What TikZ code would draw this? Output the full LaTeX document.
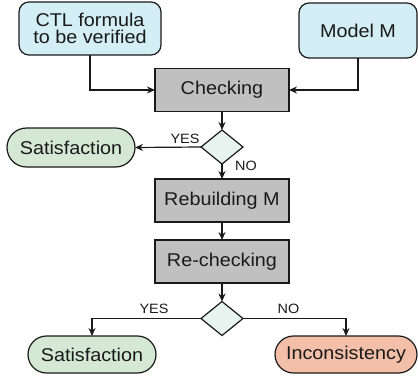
\documentclass[tikz,border=0pt]{standalone}
\usepackage{fontspec}
\setmainfont{Liberation Sans}[FakeStretch=1.07]
\usetikzlibrary{shapes.geometric,shapes.misc,arrows.meta}

\definecolor{inputfill}{HTML}{D4EEF6}
\definecolor{stepfill}{HTML}{C0C0C0}
\definecolor{testfill}{HTML}{E6F3EE}
\definecolor{okfill}{HTML}{D5E8D4}
\definecolor{badfill}{HTML}{F4BFA8}
\definecolor{ink}{HTML}{1A1A1A}

\tikzset{
  base/.style={draw=ink, line width=1.2pt, text=ink, inner sep=0pt, outer sep=0pt,
    font=\fontsize{18.5}{17.5}\selectfont, align=center},
  inputbox/.style={base, fill=inputfill, rounded corners=10pt},
  stepbox/.style={base, fill=stepfill, minimum width=134pt, minimum height=43pt},
  testbox/.style={base, diamond, fill=testfill, minimum width=42pt, minimum height=34pt},
  endbox/.style={base, rounded rectangle, fill=okfill},
  flow/.style={draw=ink, line width=1.2pt, -{Stealth[length=8pt,width=7pt]}},
  lbl/.style={text=ink, inner sep=0pt, font=\fontsize{13.5}{14}\selectfont}
}

\begin{document}
\begin{tikzpicture}[x=1pt,y=-1pt]
  \useasboundingbox (0,0) rectangle (418,378);

  % inputs
  \node[inputbox, minimum width=142pt, minimum height=53pt] (ctl) at (90,28.5) {CTL formula\\to be verified};
  \node[inputbox, minimum width=118pt, minimum height=55pt] (model) at (358,30.5) {Model M};

  % first check
  \node[stepbox] (check) at (222,90) {Checking};
  \node[testbox] (t1) at (222,147) {};
  \node[endbox, minimum width=128pt, minimum height=39pt] (sat1) at (71,147.5) {Satisfaction};

  % rebuild and check again
  \node[stepbox] (rebuild) at (222,200.5) {Rebuilding M};
  \node[stepbox] (recheck) at (222,261.5) {Re-checking};
  \node[testbox] (t2) at (222,318.5) {};

  % outcomes
  \node[endbox, minimum width=128pt, minimum height=37pt] (sat2) at (92,354.5) {Satisfaction};
  \node[endbox, minimum width=142pt, minimum height=37pt, fill=badfill] (inc) at (346,354.5) {Inconsistency};

  \draw[flow] (ctl.south) |- (check.west);
  \draw[flow] (model.south) |- (check.east);
  \draw[flow] (check.south) -- (t1.north);
  \draw[flow] (t1.west) -- (sat1.east);
  \draw[flow] (t1.south) -- (rebuild.north);
  \draw[flow] (rebuild.south) -- (recheck.north);
  \draw[flow] (recheck.south) -- (t2.north);
  \draw[flow] (t2.west) -| (sat2.north);
  \draw[flow] (t2.east) -| (inc.north);

  \node[lbl] (yes1) at (185,138.5) {YES};
  \node[lbl] (no1) at (246,166) {NO};
  \node[lbl] (yes2) at (154,308.5) {YES};
  \node[lbl] (no2) at (288.5,308.5) {NO};
\end{tikzpicture}
\end{document}
